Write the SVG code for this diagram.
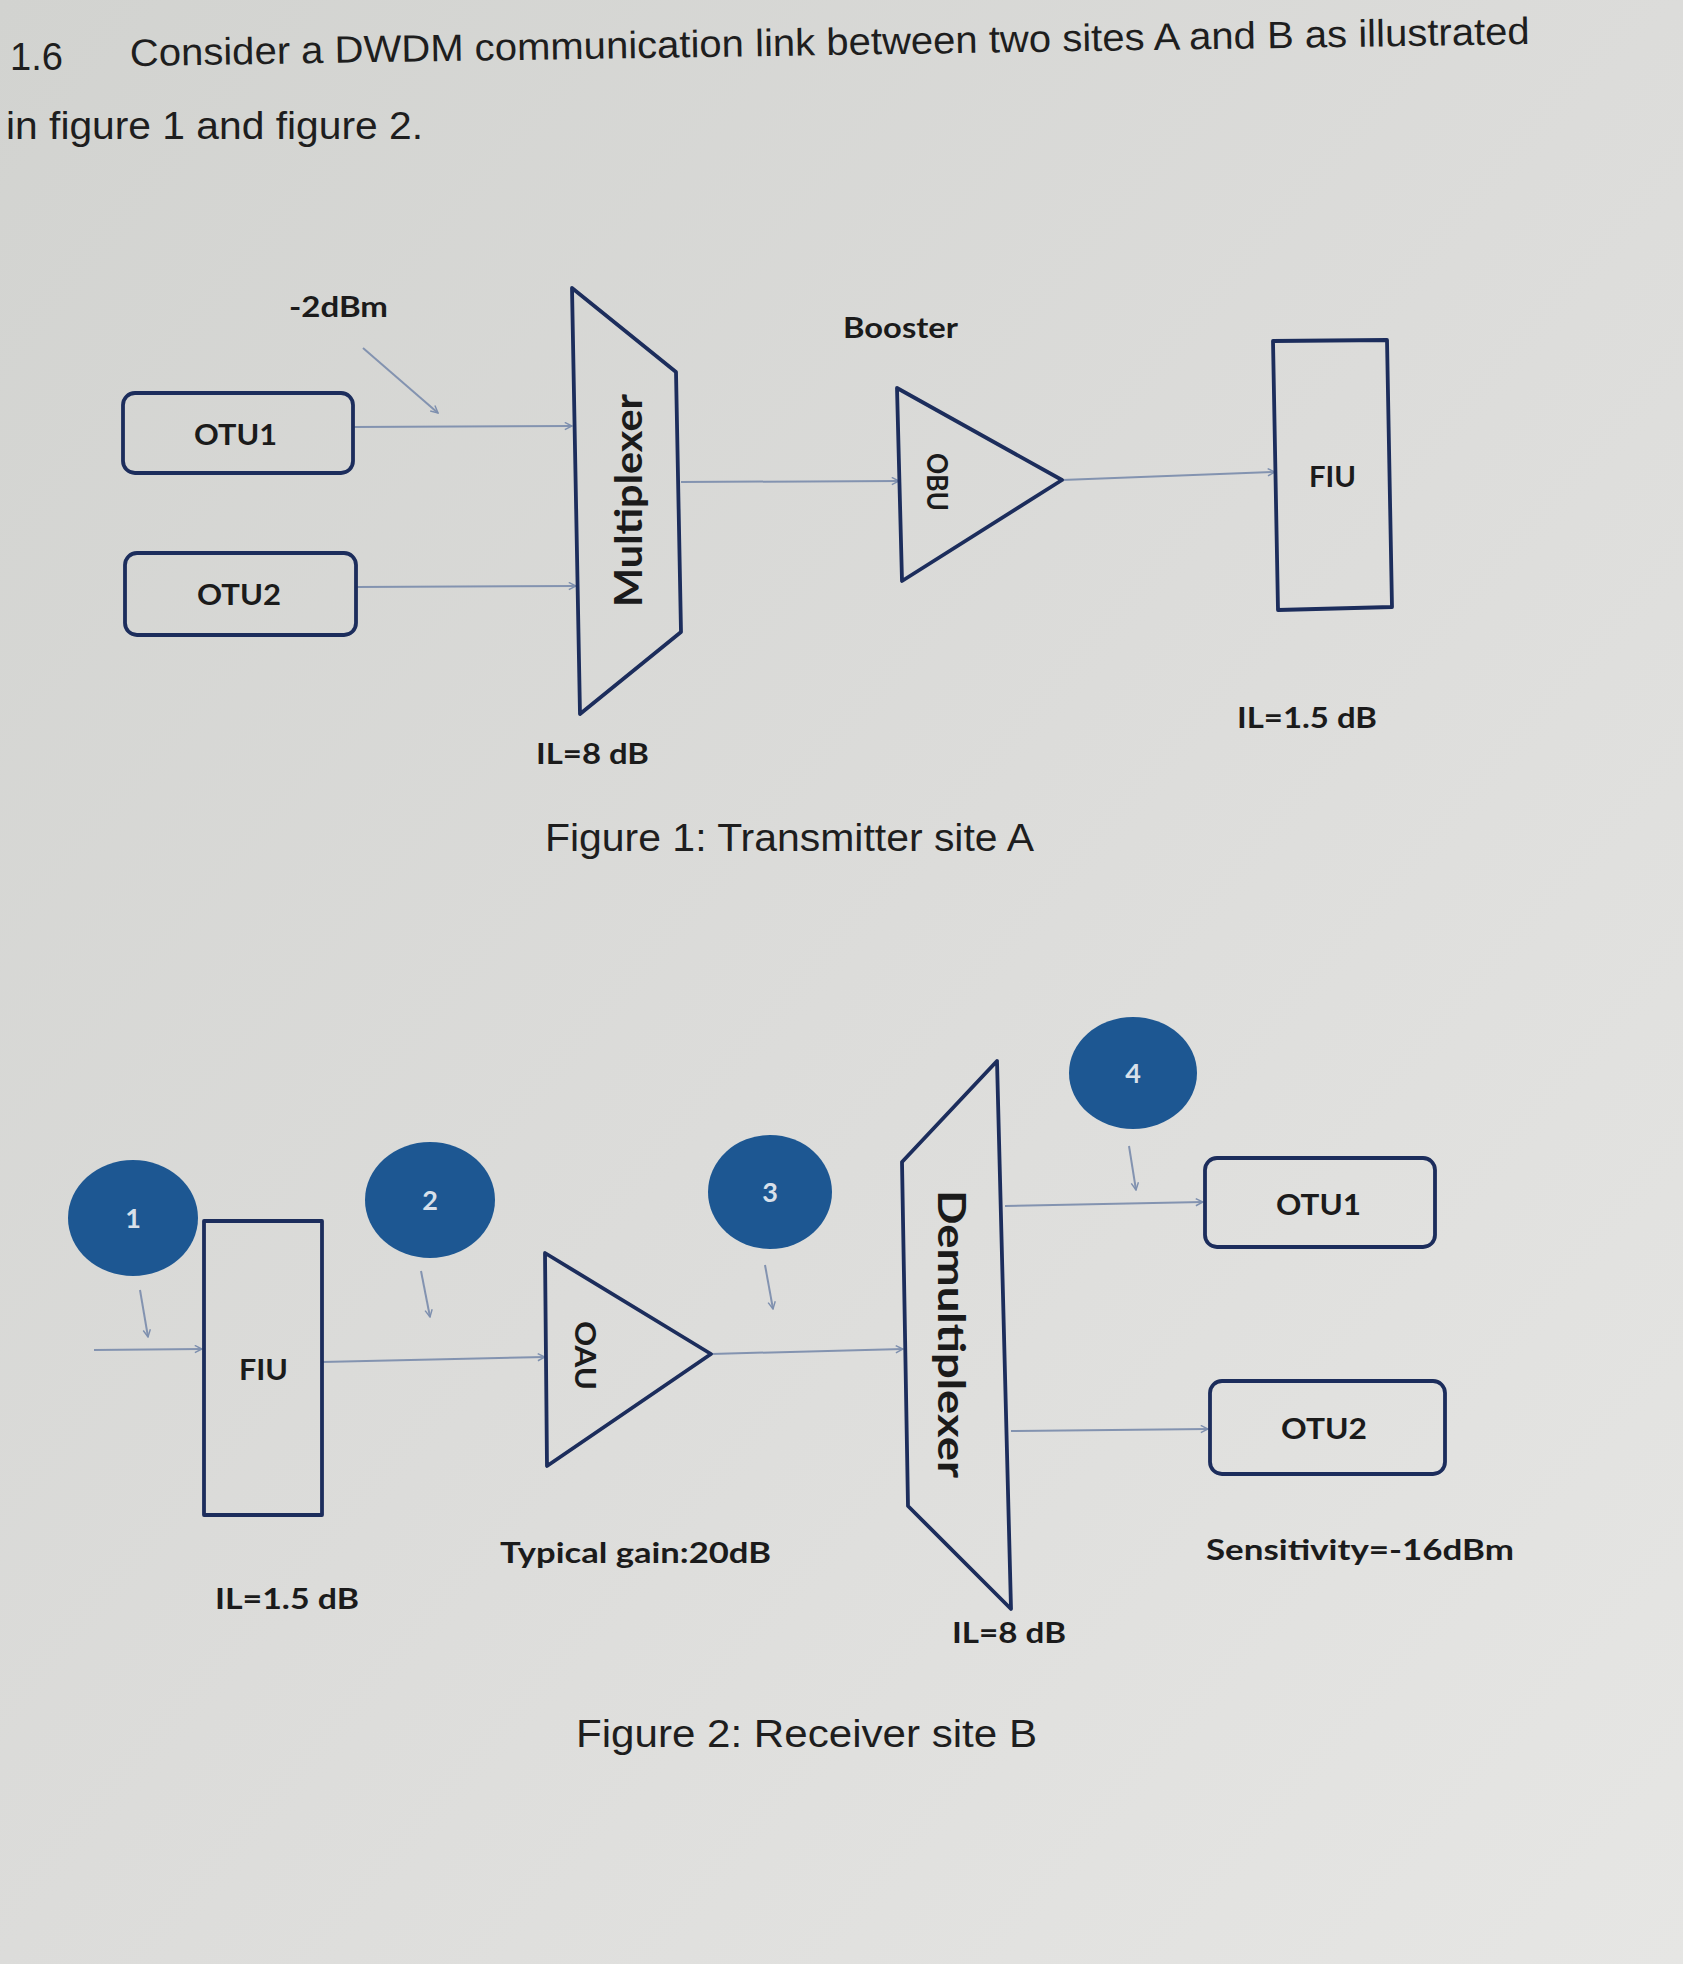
<svg xmlns="http://www.w3.org/2000/svg" width="1683" height="1964" viewBox="0 0 1683 1964">
<defs>
<linearGradient id="bg" x1="0" y1="0" x2="1" y2="1">
<stop offset="0" stop-color="#d2d3d0"/>
<stop offset="0.5" stop-color="#dcdcda"/>
<stop offset="1" stop-color="#e6e6e4"/>
</linearGradient>
<marker id="arr" viewBox="0 0 10 10" refX="9" refY="5" markerWidth="9" markerHeight="9" markerUnits="userSpaceOnUse" orient="auto">
<path d="M1,1 L9,5 L1,9" fill="none" stroke="#7d8fae" stroke-width="1.6"/>
</marker>
<style>
.shape{fill:none;stroke:#1c2d5c;stroke-width:3.8;stroke-linejoin:round}
.con{fill:none;stroke:#8393b0;stroke-width:2;marker-end:url(#arr)}
.lbl{font-family:Lato,"Open Sans",sans-serif;font-weight:bold;fill:#1b1b1b;font-size:28px}
.big{font-family:Lato,"Open Sans",sans-serif;font-weight:bold;fill:#1b1b1b;font-size:38px}
.doc{font-family:"Liberation Sans",Arial,sans-serif;fill:#1e1e1e;font-size:38px}
.dot{fill:#1d5792}
.num{font-family:Lato,"Open Sans",sans-serif;font-weight:bold;fill:#d8e0ea;font-size:27px;text-anchor:middle}
</style>
</defs>
<rect width="1683" height="1964" fill="url(#bg)"/>

<g id="title">
<text class="doc" x="10" y="70" textLength="53" lengthAdjust="spacingAndGlyphs">1.6</text>
<text class="doc" x="130" y="66" textLength="1400" lengthAdjust="spacingAndGlyphs" transform="rotate(-0.9 130 66)">Consider a DWDM communication link between two sites A and B as illustrated</text>
<text class="doc" x="6" y="139" textLength="417" lengthAdjust="spacingAndGlyphs">in figure 1 and figure 2.</text>
</g>

<g id="connectors">
<line class="con" x1="363" y1="348" x2="438" y2="413"/>
<line class="con" x1="353" y1="427" x2="572" y2="426"/>
<line class="con" x1="356" y1="587" x2="576" y2="586"/>
<line class="con" x1="681" y1="482" x2="899" y2="481"/>
<line class="con" x1="1062" y1="480" x2="1275" y2="472"/>
<line class="con" x1="140" y1="1290" x2="148" y2="1337"/>
<line class="con" x1="421" y1="1271" x2="430" y2="1317"/>
<line class="con" x1="765" y1="1265" x2="773" y2="1309"/>
<line class="con" x1="1129" y1="1146" x2="1136" y2="1190"/>
<line class="con" x1="94" y1="1350" x2="202" y2="1349"/>
<line class="con" x1="322" y1="1362" x2="545" y2="1357"/>
<line class="con" x1="711" y1="1354" x2="903" y2="1349"/>
<line class="con" x1="1005" y1="1206" x2="1203" y2="1202"/>
<line class="con" x1="1011" y1="1431" x2="1208" y2="1429"/>
</g>

<g id="label-2dBm"><text class="lbl" x="289" y="317" textLength="99" lengthAdjust="spacingAndGlyphs">-2dBm</text></g>

<g id="otu1-a">
<rect class="shape" x="123" y="393" width="230" height="80" rx="12"/>
<text class="lbl" x="194" y="445" textLength="83" lengthAdjust="spacingAndGlyphs">OTU1</text>
</g>
<g id="otu2-a">
<rect class="shape" x="125" y="553" width="231" height="82" rx="12"/>
<text class="lbl" x="197" y="605" textLength="84" lengthAdjust="spacingAndGlyphs">OTU2</text>
</g>
<g id="multiplexer">
<polygon class="shape" points="572,288 676,372 681,632 580,714"/>
<text class="big" x="0" y="0" transform="translate(642 607) rotate(-90)" textLength="213" lengthAdjust="spacingAndGlyphs">Multiplexer</text>
<text class="lbl" x="536" y="764" textLength="113" lengthAdjust="spacingAndGlyphs">IL=8 dB</text>
</g>
<g id="obu">
<text class="lbl" x="843" y="338" textLength="115" lengthAdjust="spacingAndGlyphs">Booster</text>
<polygon class="shape" points="897,388 1062,480 902,581"/>
<text class="lbl" x="0" y="0" transform="translate(927 453) rotate(90)" textLength="58" lengthAdjust="spacingAndGlyphs">OBU</text>
</g>
<g id="fiu-a">
<polygon class="shape" points="1273,341 1387,340 1392,607 1278,610"/>
<text class="lbl" x="1309" y="487" textLength="47" lengthAdjust="spacingAndGlyphs">FIU</text>
<text class="lbl" x="1237" y="728" textLength="140" lengthAdjust="spacingAndGlyphs">IL=1.5 dB</text>
</g>
<g id="caption1"><text class="doc" x="545" y="851" textLength="489" lengthAdjust="spacingAndGlyphs">Figure 1: Transmitter site A</text></g>

<g id="point1"><ellipse class="dot" cx="133" cy="1218" rx="65" ry="58"/><text class="num" x="133" y="1228">1</text></g>
<g id="point2"><ellipse class="dot" cx="430" cy="1200" rx="65" ry="58"/><text class="num" x="430" y="1210">2</text></g>
<g id="point3"><ellipse class="dot" cx="770" cy="1192" rx="62" ry="57"/><text class="num" x="770" y="1202">3</text></g>
<g id="point4"><ellipse class="dot" cx="1133" cy="1073" rx="64" ry="56"/><text class="num" x="1133" y="1083">4</text></g>

<g id="fiu-b">
<rect class="shape" x="204" y="1221" width="118" height="294"/>
<text class="lbl" x="239" y="1380" textLength="49" lengthAdjust="spacingAndGlyphs">FIU</text>
<text class="lbl" x="215" y="1609" textLength="144" lengthAdjust="spacingAndGlyphs">IL=1.5 dB</text>
</g>
<g id="oau">
<polygon class="shape" points="545,1253 711,1354 547,1466"/>
<text class="lbl" x="0" y="0" transform="translate(575 1321) rotate(90)" textLength="69" lengthAdjust="spacingAndGlyphs">OAU</text>
<text class="lbl" x="500" y="1563" textLength="271" lengthAdjust="spacingAndGlyphs">Typical gain:20dB</text>
</g>
<g id="demultiplexer">
<polygon class="shape" points="997,1061 1011,1609 908,1506 902,1162"/>
<text class="big" x="0" y="0" transform="translate(938 1190) rotate(90)" textLength="288" lengthAdjust="spacingAndGlyphs">Demultiplexer</text>
<text class="lbl" x="952" y="1643" textLength="114" lengthAdjust="spacingAndGlyphs">IL=8 dB</text>
</g>
<g id="otu1-b">
<rect class="shape" x="1205" y="1158" width="230" height="89" rx="12"/>
<text class="lbl" x="1276" y="1215" textLength="85" lengthAdjust="spacingAndGlyphs">OTU1</text>
</g>
<g id="otu2-b">
<rect class="shape" x="1210" y="1381" width="235" height="93" rx="12"/>
<text class="lbl" x="1281" y="1439" textLength="86" lengthAdjust="spacingAndGlyphs">OTU2</text>
<text class="lbl" x="1206" y="1560" textLength="308" lengthAdjust="spacingAndGlyphs">Sensitivity=-16dBm</text>
</g>
<g id="caption2"><text class="doc" x="576" y="1747" textLength="461" lengthAdjust="spacingAndGlyphs">Figure 2: Receiver site B</text></g>
</svg>
